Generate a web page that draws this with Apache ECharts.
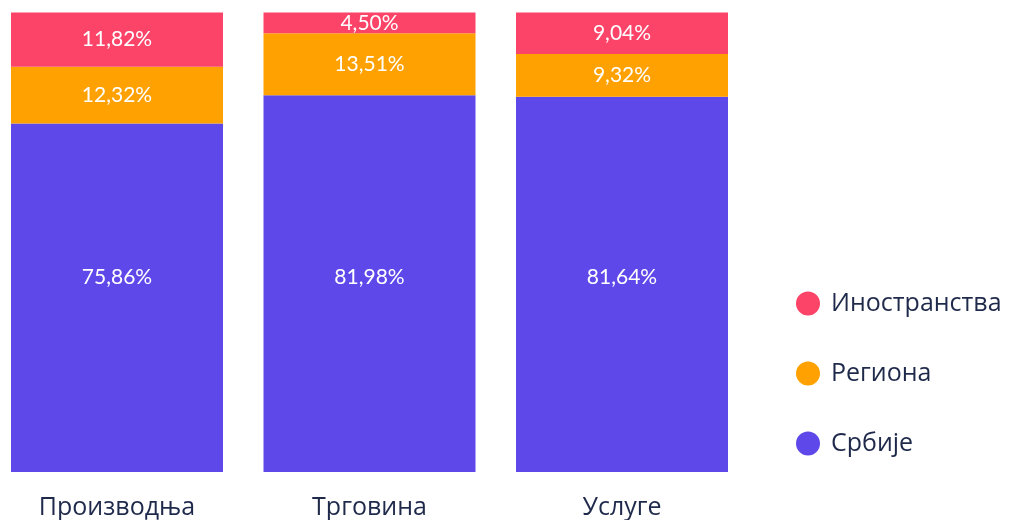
<!DOCTYPE html>
<html>
<head>
<meta charset="utf-8">
<script src="https://cdn.jsdelivr.net/npm/echarts@6/dist/echarts.min.js"></script>
<style>
html,body{margin:0;padding:0;background:#fff;}
#c{width:1009px;height:520px;}
</style>
</head>
<body>
<div id="c"></div>
<script>
const categories = ['Производња', 'Трговина', 'Услуге'];
const seriesNames = ['Србије', 'Региона', 'Иностранства'];
const srbije = [75.86, 81.98, 81.64];
const regiona = [12.32, 13.51, 9.32];
const inostranstva = [11.82, 4.50, 9.04];
const colors = ['#5E48EA', '#FFA100', '#FC4368'];

const fmt = p => p.value.toFixed(2).replace('.', ',') + '%';
const values = [srbije, regiona, inostranstva];
// vertical nudge of the large (Србије) labels so they line up as in the original
const bigLabelShift = [-20, -6, -7];
const chart = echarts.init(document.getElementById('c'), null, {renderer: 'canvas'});
chart.setOption({
  animation: false,
  grid: {left: 117, width: 505, top: 12.5, bottom: 48, containLabel: false},
  xAxis: {
    type: 'category', data: categories, boundaryGap: false,
    axisLine: {show: false}, axisTick: {show: false}, splitLine: {show: false},
    axisLabel: {color: '#1F2A4B', fontFamily: 'Open Sans', fontSize: 25, margin: 23, verticalAlign: 'top'}
  },
  yAxis: {type: 'value', min: 0, max: 100, show: false},
  legend: {
    orient: 'vertical', left: 791, top: 286,
    data: ['Иностранства', 'Региона', 'Србије'],
    icon: 'circle', itemWidth: 24, itemHeight: 24, itemGap: 45,
    textStyle: {color: '#1F2A4B', fontFamily: 'Open Sans', fontSize: 25, lineHeight: 24, padding: [0, 0, 0, 6]}
  },
  series: seriesNames.map((n, i) => ({
    name: n, type: 'bar', stack: 'total',
    data: values[i].map((v, j) => i === 0
      ? {value: v, label: {offset: [0, bigLabelShift[j]]}}
      : v),
    barWidth: 212, itemStyle: {color: colors[i]},
    label: {show: true, position: 'inside', color: '#fff', fontFamily: 'Lato', fontSize: 21, formatter: fmt}
  }))
});
</script>
</body>
</html>
